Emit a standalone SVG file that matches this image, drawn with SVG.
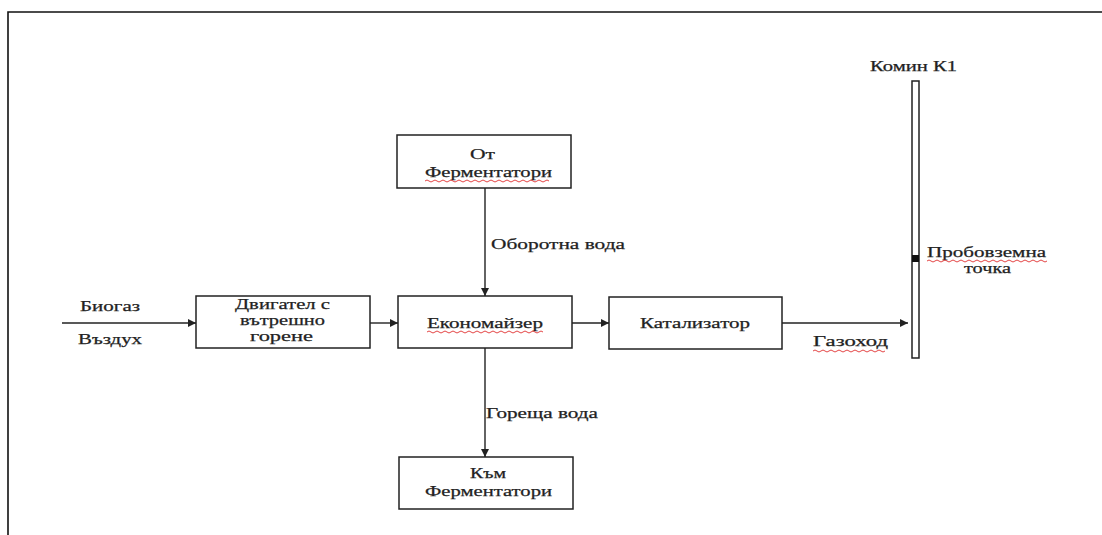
<svg xmlns="http://www.w3.org/2000/svg" width="1102" height="535" viewBox="0 0 1102 535">
<defs>
<style>
.box{fill:#fff;stroke:#222;stroke-width:1.5}
.ln{fill:none;stroke:#222;stroke-width:1.4}
.t{font-family:"Liberation Serif","Times New Roman",serif;font-size:15px;fill:#222;stroke:#222;stroke-width:0.25}
.sq{fill:none;stroke:#e03030;stroke-width:0.9}
</style>
<marker id="ah" viewBox="0 0 10 10" refX="10" refY="5" markerWidth="9" markerHeight="8" markerUnits="userSpaceOnUse" orient="auto">
<path d="M0,0 L10,5 L0,10 Z" fill="#222"/>
</marker>
</defs>
<rect width="1102" height="535" fill="#fff"/>
<path d="M8,535 V12 H1102" fill="none" stroke="#111" stroke-width="1.6"/>

<g id="connectors">
<line class="ln" x1="62" y1="323" x2="196" y2="323" marker-end="url(#ah)"/>
<line class="ln" x1="370" y1="323" x2="398" y2="323" marker-end="url(#ah)"/>
<line class="ln" x1="572" y1="323" x2="609" y2="323" marker-end="url(#ah)"/>
<line class="ln" x1="782" y1="323" x2="908" y2="323" marker-end="url(#ah)"/>
<line class="ln" x1="485" y1="188" x2="485" y2="296" marker-end="url(#ah)"/>
<line class="ln" x1="485" y1="348" x2="485" y2="457" marker-end="url(#ah)"/>
<text class="t" x="80" y="311" textLength="60" lengthAdjust="spacingAndGlyphs">Биогаз</text>
<text class="t" x="78" y="344" textLength="64" lengthAdjust="spacingAndGlyphs">Въздух</text>
<text class="t" x="491" y="249" textLength="134" lengthAdjust="spacingAndGlyphs">Оборотна вода</text>
<text class="t" x="486" y="418" textLength="112" lengthAdjust="spacingAndGlyphs">Гореща вода</text>
<text class="t" x="813" y="346" textLength="75" lengthAdjust="spacingAndGlyphs">Газоход</text>
<path class="sq" d="M813,351 q2,-2 4,0 t4,0 t4,0 t4,0 t4,0 t4,0 t4,0 t4,0 t4,0 t4,0 t4,0 t4,0 t4,0 t4,0 t4,0 t4,0 t4,0 t4,0"/>
</g>

<g id="engine">
<rect class="box" x="196" y="296" width="174" height="52"/>
<text class="t" x="235" y="309" textLength="95" lengthAdjust="spacingAndGlyphs">Двигател с</text>
<text class="t" x="240" y="325" textLength="85" lengthAdjust="spacingAndGlyphs">вътрешно</text>
<text class="t" x="250" y="341" textLength="63" lengthAdjust="spacingAndGlyphs">горене</text>
</g>

<g id="from-fermenters">
<rect class="box" x="397" y="135" width="174" height="53"/>
<text class="t" x="470" y="159" textLength="25" lengthAdjust="spacingAndGlyphs">От</text>
<text class="t" x="425" y="177" textLength="127" lengthAdjust="spacingAndGlyphs">Ферментатори</text>
<path class="sq" d="M425,181 q2,-2 4,0 t4,0 t4,0 t4,0 t4,0 t4,0 t4,0 t4,0 t4,0 t4,0 t4,0 t4,0 t4,0 t4,0 t4,0 t4,0 t4,0 t4,0 t4,0 t4,0 t4,0 t4,0 t4,0 t4,0 t4,0 t4,0 t4,0 t4,0 t4,0 t4,0 t4,0"/>
</g>

<g id="economizer">
<rect class="box" x="398" y="296" width="174" height="52"/>
<text class="t" x="427" y="328" textLength="116" lengthAdjust="spacingAndGlyphs">Економайзер</text>
<path class="sq" d="M427,332 q2,-2 4,0 t4,0 t4,0 t4,0 t4,0 t4,0 t4,0 t4,0 t4,0 t4,0 t4,0 t4,0 t4,0 t4,0 t4,0 t4,0 t4,0 t4,0 t4,0 t4,0 t4,0 t4,0 t4,0 t4,0 t4,0 t4,0 t4,0 t4,0 t4,0"/>
</g>

<g id="catalyst">
<rect class="box" x="609" y="297" width="173" height="52"/>
<text class="t" x="640" y="328" textLength="110" lengthAdjust="spacingAndGlyphs">Катализатор</text>
</g>

<g id="to-fermenters">
<rect class="box" x="399" y="457" width="174" height="52"/>
<text class="t" x="470" y="478" textLength="36" lengthAdjust="spacingAndGlyphs">Към</text>
<text class="t" x="425" y="496" textLength="127" lengthAdjust="spacingAndGlyphs">Ферментатори</text>
</g>

<g id="chimney">
<rect class="box" x="912" y="81" width="7" height="277" stroke-width="1.3"/>
<rect x="912" y="255" width="7" height="7" fill="#111"/>
<text class="t" x="870" y="71" textLength="87" lengthAdjust="spacingAndGlyphs">Комин К1</text>
<text class="t" x="927" y="257" textLength="119" lengthAdjust="spacingAndGlyphs">Пробовземна</text>
<path class="sq" d="M927,261 q2,-2 4,0 t4,0 t4,0 t4,0 t4,0 t4,0 t4,0 t4,0 t4,0 t4,0 t4,0 t4,0 t4,0 t4,0 t4,0 t4,0 t4,0 t4,0 t4,0 t4,0 t4,0 t4,0 t4,0 t4,0 t4,0 t4,0 t4,0 t4,0 t4,0 t4,0"/>
<text class="t" x="964" y="273" textLength="47" lengthAdjust="spacingAndGlyphs">точка</text>
</g>
</svg>
